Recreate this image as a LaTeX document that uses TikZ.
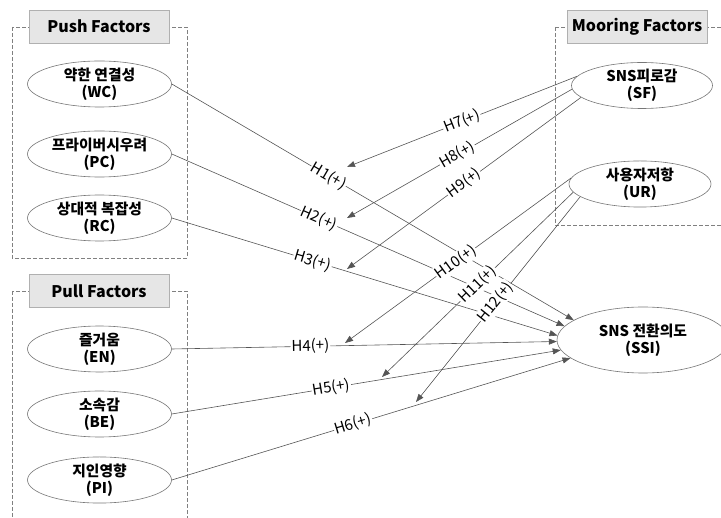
\documentclass[tikz,border=0pt]{standalone}
\usepackage{fontspec}
\setmainfont{Noto Sans CJK KR}
\usetikzlibrary{shapes.geometric,arrows.meta}
\definecolor{lncol}{HTML}{555555}
\definecolor{dashcol}{HTML}{808080}
\definecolor{titlefill}{HTML}{E6E6E6}
\definecolor{titleline}{HTML}{B0B0B0}
\begin{document}
\begin{tikzpicture}[x=1pt,y=-1pt,
  factorbox/.style={draw=dashcol,dashed,dash pattern=on 4pt off 2pt,line width=0.7pt},
  titlebox/.style={draw=titleline,fill=titlefill,minimum width=140pt,minimum height=33pt,inner sep=0pt,font=\fontsize{16}{19}\selectfont\bfseries},
  construct/.style={ellipse,draw=lncol!80,fill=white,line width=0.6pt,minimum width=144pt,minimum height=44pt,inner sep=0pt,align=center,font=\fontsize{14.8}{17}\selectfont\bfseries},
  hyp/.style={draw=lncol,line width=0.6pt,-{Triangle[length=8pt,width=6pt]}},
  hlabel/.style={sloped,fill=white,inner sep=1pt,font=\fontsize{15}{17}\selectfont}
]
\useasboundingbox (0,0) rectangle (721,518);
\clip (0,0) rectangle (721,518);
% factor boxes
\draw[factorbox] (12,27) rectangle (187,258);
\draw[factorbox] (12,291) rectangle (187,540);
\draw[factorbox] (555,27) rectangle (740,225);
\node[titlebox] (push) at (99,26.5) {Push Factors};
\node[titlebox] (pull) at (99,291) {Pull Factors};
\node[titlebox] (moor) at (637,26.5) {Mooring Factors};
% constructs
\node[construct] (wc) at (99.5,84) {약한 연결성\\(WC)};
\node[construct] (pc) at (99.5,154) {프라이버시우려\\(PC)};
\node[construct] (rc) at (99.5,218) {상대적 복잡성\\(RC)};
\node[construct] (en) at (99.5,349) {즐거움\\(EN)};
\node[construct] (be) at (99.5,414) {소속감\\(BE)};
\node[construct] (pi) at (99.5,480) {지인영향\\(PI)};
\node[construct,minimum width=141pt] (sf) at (642,85.5) {SNS피로감\\(SF)};
\node[construct,minimum width=142pt,minimum height=42pt] (ur) at (640,184) {사용자저항\\(UR)};
\node[construct,minimum width=172pt,minimum height=66pt] (ssi) at (643,340) {SNS 전환의도\\(SSI)};
% moderator targets
\coordinate (m7) at (347,167);
\coordinate (m8) at (347,218);
\coordinate (m9) at (347,269);
\coordinate (m10) at (345,343);
\coordinate (m11) at (382,377);
\coordinate (m12) at (416,402);
% direct hypotheses
\draw[hyp] (wc.east) -- node[hlabel,pos=0.39] {H1(+)} (ssi.164);
\draw[hyp] (pc.east) -- node[hlabel,pos=0.375] {H2(+)} (ssi.170);
\draw[hyp] (rc.east) -- node[hlabel,pos=0.365] {H3(+)} (ssi.177);
\draw[hyp] (en.east) -- node[hlabel,pos=0.36] {H4(+)} (ssi.181);
\draw[hyp] (be.east) -- node[hlabel,pos=0.41] {H5(+)} (ssi.187);
\draw[hyp] (pi.east) -- node[hlabel,pos=0.455] {H6(+)} (ssi.194);
% moderating hypotheses
\draw[hyp] (sf.172) -- node[hlabel,pos=0.5] {H7(+)} (m7);
\draw[hyp] (sf.183) -- node[hlabel,pos=0.51] {H8(+)} (m8);
\draw[hyp] (sf.191) -- node[hlabel,pos=0.5] {H9(+)} (m9);
\draw[hyp] (ur.175) -- node[hlabel,pos=0.51] {H10(+)} (m10);
\draw[hyp] (ur.187) -- node[hlabel,pos=0.5] {H11(+)} (m11);
\draw[hyp] (ur.192) -- node[hlabel,pos=0.515] {H12(+)} (m12);
\end{tikzpicture}
\end{document}
